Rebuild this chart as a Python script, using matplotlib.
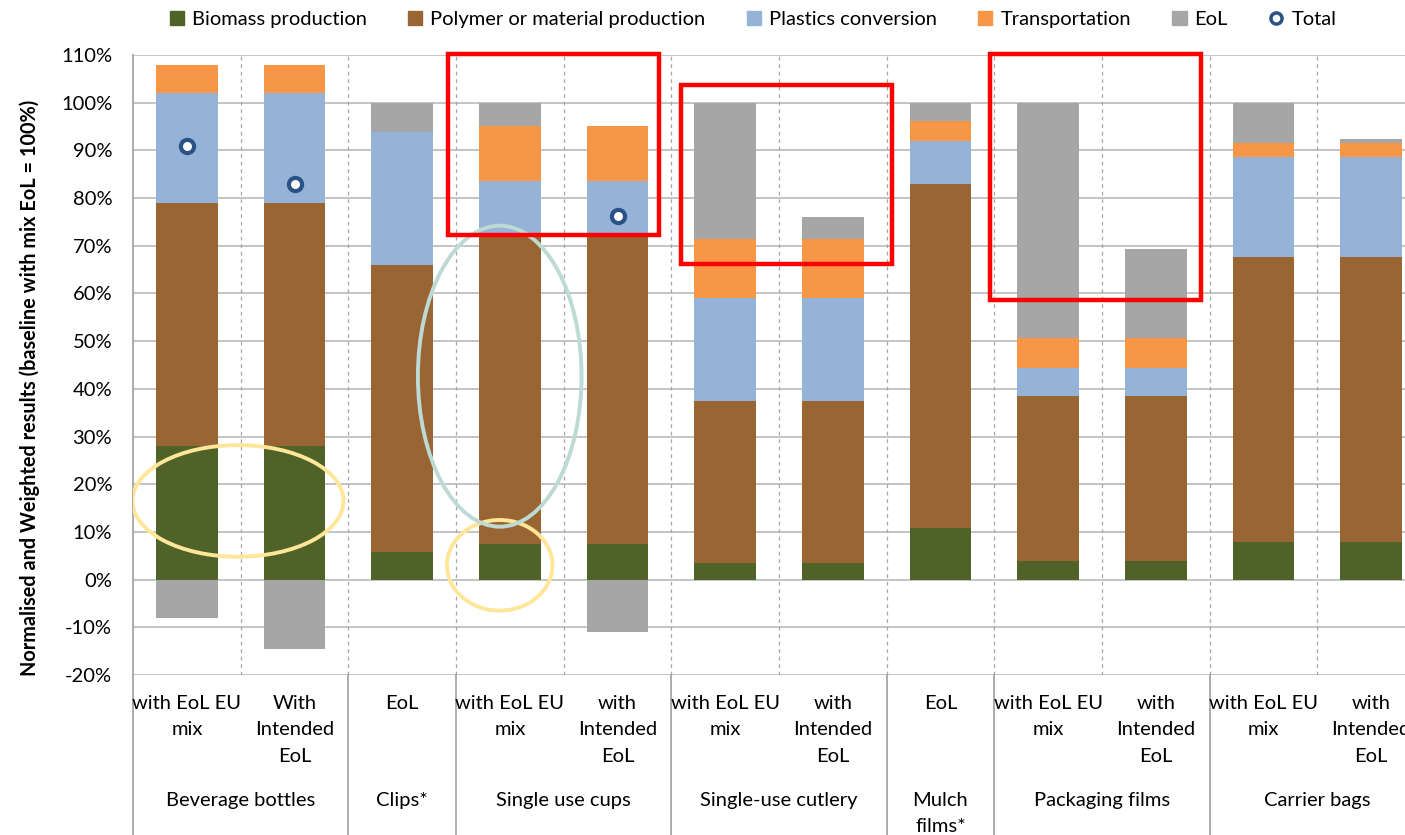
import numpy as np
import matplotlib.pyplot as plt
from matplotlib.patches import Ellipse, Rectangle, Patch
from matplotlib.lines import Line2D
import matplotlib.transforms as mtransforms

plt.rcParams['font.family'] = ['Lato', 'DejaVu Sans']

# bar labels (lower level) and product groups (upper level)
sub_labels = ["with EoL EU\nmix", "With\nIntended\nEoL", "EoL",
              "with EoL EU\nmix", "with\nIntended\nEoL",
              "with EoL EU\nmix", "with\nIntended\nEoL", "EoL",
              "with EoL EU\nmix", "with\nIntended\nEoL",
              "with EoL EU\nmix", "with\nIntended\nEoL"]
groups = ["Beverage bottles", "Clips*", "Single use cups", "Single-use cutlery",
          "Mulch\nfilms*", "Packaging films", "Carrier bags"]
group_sizes = [2, 1, 2, 2, 1, 2, 2]

# contributions in % (baseline with mix EoL = 100%)
biomass = [28.0, 28.0, 5.8, 7.4, 7.4, 3.4, 3.4, 10.9, 3.8, 3.8, 7.8, 7.8]
polymer = [51.0, 51.0, 60.2, 64.6, 64.6, 34.1, 34.1, 72.1, 34.7, 34.7, 59.8, 59.8]
conversion = [23.0, 23.0, 27.9, 11.6, 11.6, 21.6, 21.6, 9.0, 5.9, 5.9, 21.0, 21.0]
transport = [5.8, 5.8, 0.0, 11.6, 11.6, 12.3, 12.3, 4.1, 6.2, 6.2, 2.9, 2.9]
eol = [-8.0, -14.6, 6.1, 4.8, -11.0, 28.6, 4.7, 3.9, 49.4, 18.7, 8.5, 0.8]
total = [91.0, 83.0, np.nan, np.nan, 76.3, np.nan, np.nan, np.nan, np.nan, np.nan, np.nan, np.nan]

stages = ["Biomass production", "Polymer or material production",
          "Plastics conversion", "Transportation", "EoL"]
colors = ["#4F6228", "#996633", "#95B3D7", "#F79646", "#A6A6A6"]

fig = plt.figure(figsize=(14.05, 8.35), dpi=100)
ax = fig.add_axes([133 / 1405, 160 / 835, 1292 / 1405, 620 / 835])

x = np.arange(len(sub_labels))
w = 0.57
bottom = np.zeros(len(x))
for vals, c in zip([biomass, polymer, conversion, transport], colors[:4]):
    vals = np.array(vals)
    ax.bar(x, vals, w, bottom=bottom, color=c, zorder=2)
    bottom += vals
eol = np.array(eol)
ax.bar(x, eol, w, bottom=np.where(eol > 0, bottom, 0), color=colors[4], zorder=2)
ax.plot(x, total, 'o', ms=9.5, mfc='white', mec='#2B5287', mew=3, ls='none', zorder=4)

ax.set_xlim(-0.5, len(x) - 0.5)
ax.set_ylim(-20, 110)
ax.set_yticks(np.arange(-20, 111, 10))
ax.set_yticklabels(['%d%%' % v for v in range(-20, 111, 10)], fontsize=14.5)
ax.tick_params(axis='y', length=0, pad=15)
ax.set_xticks([])
ax.yaxis.grid(True, color='#BFBFBF', lw=1.3, zorder=0)
ax.set_axisbelow(True)
for s in ['top', 'right', 'bottom']:
    ax.spines[s].set_visible(False)
ax.spines['left'].set_color('#A6A6A6')
ax.spines['left'].set_linewidth(1.3)

# dashed separators between bars
for b in np.arange(0.5, len(x) - 0.5):
    ax.axvline(b, color='#A6A6A6', ls=(0, (3, 3)), lw=0.9, zorder=1)

# two-level category axis
trans = mtransforms.blended_transform_factory(ax.transData, ax.transAxes)
for i, lab in enumerate(sub_labels):
    ax.text(i, -0.032, lab, transform=trans, ha='center', va='top',
            fontsize=14.5, linespacing=1.68)
edges = np.concatenate([[-0.5], np.cumsum(group_sizes) - 0.5])
for e in edges:
    ax.plot([e, e], [0, -0.3], transform=trans, color='#A6A6A6', lw=1.3, clip_on=False)
for g, a, b in zip(groups, edges[:-1], edges[1:]):
    ax.text((a + b) / 2, -0.188, g, transform=trans, ha='center', va='top',
            fontsize=14.5, linespacing=1.68)

fig.text(30 / 1405, 1 - 388 / 835,
         "Normalised and Weighted results (baseline with mix EoL = 100%)",
         rotation=90, ha='center', va='center', fontsize=14.3, fontweight='bold')

# highlights
for cx, cy, ew, eh, ec in [(0.475, 16.5, 1.96, 23.4, '#FFE699'),
                           (2.906, 3.0, 0.98, 19.0, '#FFE699'),
                           (2.906, 42.65, 1.52, 63.1, '#BDDAD4')]:
    ax.add_patch(Ellipse((cx, cy), ew, eh, fill=False, ec=ec, lw=2.8, zorder=3))
for x0, x1, y0, y1 in [(2.43, 4.385, 72.2, 110.2),
                       (4.59, 6.546, 66.1, 103.7),
                       (7.46, 9.42, 58.6, 110.2)]:
    ax.add_patch(Rectangle((x0, y0), x1 - x0, y1 - y0, fill=False, ec='#FF0000',
                           lw=3.2, zorder=5, clip_on=False))

handles = [Patch(color=c, label=s) for c, s in zip(colors, stages)]
handles.append(Line2D([], [], marker='o', ms=8, mfc='white', mec='#2B5287', mew=2.5,
                      ls='none', label='Total'))
fig.legend(handles=handles, loc='center', bbox_to_anchor=(0.536, 0.977), ncol=6,
           frameon=False, fontsize=14.5, handlelength=0.7, handleheight=0.7,
           handletextpad=0.4, columnspacing=2.05)

fig.savefig('out.png', dpi=100)
